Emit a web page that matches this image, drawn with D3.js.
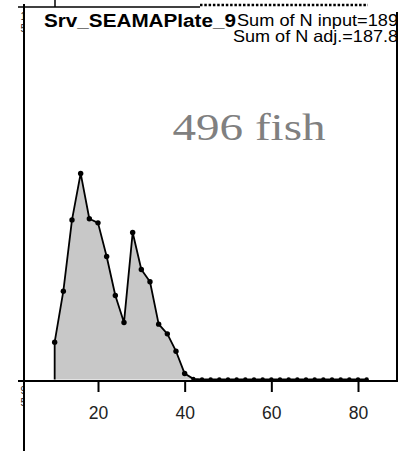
<!DOCTYPE html>
<html>
<head>
<meta charset="utf-8">
<script src="https://cdn.jsdelivr.net/npm/d3@7"></script>
<style>
  body { margin: 0; background: #fff; }
  text { font-family: "Liberation Sans", Arial, sans-serif; }
</style>
</head>
<body>
<div id="vis"></div>
<script>
// length bins (cm) and proportion at length
var lengths = [10, 12, 14, 16, 18, 20, 22, 24, 26, 28, 30, 32, 34, 36, 38, 40, 42,
  44, 46, 48, 50, 52, 54, 56, 58, 60, 62, 64, 66, 68, 70, 72, 74, 76, 78, 80, 82];
var props = [0.0239, 0.0565, 0.1021, 0.1318, 0.1028, 0.1002, 0.0787, 0.0537, 0.0365,
  0.0940, 0.0704, 0.0625, 0.0354, 0.0292, 0.0181, 0.0038, 0.0004,
  0, 0, 0, 0, 0, 0, 0, 0, 0, 0, 0, 0, 0, 0, 0, 0, 0, 0, 0, 0];
var xTicks = [20, 40, 60, 80];
var panelTitle = "Srv_SEAMAPlate_9";
var sumLines = ["Sum of N input=189", "Sum of N adj.=187.8"];
var nFish = "496 fish";

var W = 405, H = 451;
var box = { left: 24, right: 397, top: 7, bottom: 381 };

var svg = d3.select("#vis").append("svg")
  .attr("width", W)
  .attr("height", H);

var x = d3.scaleLinear().domain([20, 80]).range([98, 358]);
var y = d3.scaleLinear().domain([0, 0.24]).range([379.5, 4.3]);

var pts = lengths.map(function(l, i) { return { x: l, y: props[i] }; });

// filled polygon
var area = d3.area()
  .x(function(d) { return x(d.x); })
  .y0(y(0))
  .y1(function(d) { return y(d.y); });

svg.append("path")
  .datum(pts)
  .attr("d", area)
  .attr("fill", "#c8c8c8")
  .attr("stroke", "none");

// outline, including the left edge down to zero
var line = d3.line()
  .x(function(d) { return x(d.x); })
  .y(function(d) { return y(d.y); });

svg.append("path")
  .datum([{ x: lengths[0], y: 0 }].concat(pts))
  .attr("d", line)
  .attr("fill", "none")
  .attr("stroke", "#000")
  .attr("stroke-width", 1.8)
  .attr("stroke-linejoin", "round");

svg.selectAll(".pt")
  .data(pts)
  .enter()
  .append("circle")
  .attr("class", "pt")
  .attr("cx", function(d) { return x(d.x); })
  .attr("cy", function(d) { return y(d.y); })
  .attr("r", function(d) { return d.y > 0.001 ? 2.7 : 2.2; })
  .attr("fill", "#000");

// panel frame
svg.append("line")
  .attr("x1", box.left).attr("x2", box.left)
  .attr("y1", 4).attr("y2", H)
  .attr("stroke", "#000").attr("stroke-width", 2);
svg.append("line")
  .attr("x1", 18).attr("x2", 200)
  .attr("y1", box.top).attr("y2", box.top)
  .attr("stroke", "#000").attr("stroke-width", 1.6);
svg.append("line")
  .attr("x1", 200).attr("x2", 368)
  .attr("y1", 5).attr("y2", 5)
  .attr("stroke", "#000").attr("stroke-width", 2.5)
  .attr("stroke-dasharray", "2.5,1.8");
svg.append("line")
  .attr("x1", 55).attr("x2", 55)
  .attr("y1", 0).attr("y2", box.top)
  .attr("stroke", "#000").attr("stroke-width", 1.5);
svg.append("line")
  .attr("x1", box.right).attr("x2", box.right)
  .attr("y1", 12).attr("y2", box.bottom)
  .attr("stroke", "#000").attr("stroke-width", 2);
svg.append("line")
  .attr("x1", 18).attr("x2", box.right + 1)
  .attr("y1", box.bottom).attr("y2", box.bottom)
  .attr("stroke", "#000").attr("stroke-width", 2);

// x axis ticks + labels
var xAxis = d3.axisBottom(x)
  .tickValues(xTicks)
  .tickSize(11)
  .tickPadding(15)
  .tickFormat(d3.format("d"));

var gx = svg.append("g")
  .attr("transform", "translate(0," + box.bottom + ")")
  .call(xAxis);
gx.select(".domain").remove();
gx.selectAll(".tick line").attr("stroke", "#000").attr("stroke-width", 2);
gx.selectAll(".tick text")
  .attr("fill", "#222")
  .style("font-size", "17.5px")
  .style("font-family", "'Liberation Sans', Arial, sans-serif");

// clipped neighbour labels on the far left
var clip = svg.append("clipPath").attr("id", "leftclip");
clip.append("rect").attr("x", 0).attr("y", 0).attr("width", 23).attr("height", H);
var lg = svg.append("g").attr("clip-path", "url(#leftclip)");
[["1", 20], ["5", 32], ["9", 394], ["5", 406]].forEach(function(t) {
  lg.append("text")
    .attr("x", 26).attr("y", t[1])
    .attr("text-anchor", "end")
    .style("font-size", "10px")
    .attr("fill", "#222")
    .text(t[0]);
});

// panel texts
svg.append("text")
  .attr("x", 44).attr("y", 27)
  .attr("textLength", 192)
  .attr("lengthAdjust", "spacingAndGlyphs")
  .style("font-size", "17.5px")
  .style("font-weight", "bold")
  .attr("fill", "#000")
  .text(panelTitle);

svg.append("text")
  .attr("x", 237).attr("y", 26)
  .attr("textLength", 161)
  .attr("lengthAdjust", "spacingAndGlyphs")
  .style("font-size", "16.5px")
  .attr("fill", "#000")
  .text(sumLines[0]);

svg.append("text")
  .attr("x", 233).attr("y", 42)
  .attr("textLength", 165)
  .attr("lengthAdjust", "spacingAndGlyphs")
  .style("font-size", "16.5px")
  .attr("fill", "#000")
  .text(sumLines[1]);

svg.append("text")
  .attr("x", 172.5).attr("y", 139.5)
  .attr("textLength", 153)
  .attr("lengthAdjust", "spacingAndGlyphs")
  .style("font-family", "'Liberation Serif', 'Times New Roman', serif")
  .style("font-size", "37px")
  .attr("fill", "#808080")
  .text(nFish);
</script>
</body>
</html>
